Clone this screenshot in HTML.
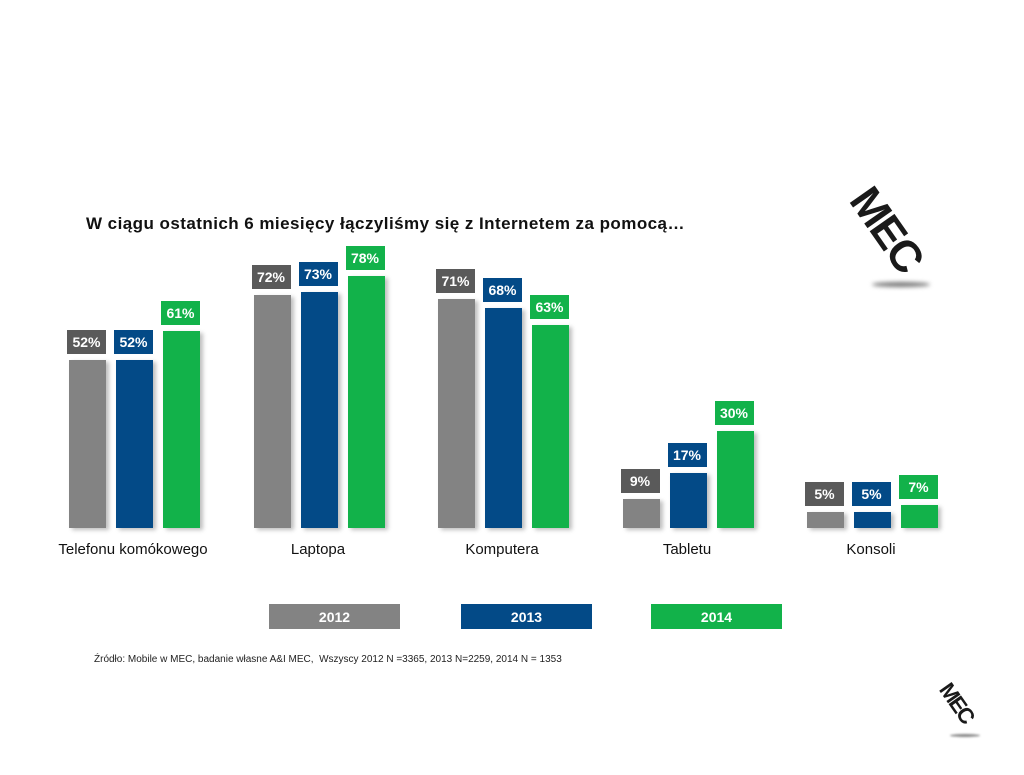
<!DOCTYPE html>
<html><head><meta charset="utf-8"><style>
body{margin:0;width:1024px;height:775px;background:#fff;position:relative;overflow:hidden;font-family:"Liberation Sans",sans-serif}
.b{position:absolute;width:37px;box-shadow:3px 2px 4px rgba(0,0,0,.25)}
.l{position:absolute;width:39px;height:24px;color:#fff;font-weight:bold;font-size:14px;text-align:center;line-height:25px}
.g{background:#838383}.n{background:#034a87}.e{background:#12b24a}
.lg{background:#5a5a5a}
.c{position:absolute;top:541px;width:200px;text-align:center;font-size:15px;color:#111}
.leg{position:absolute;top:604px;height:25px;width:131px;color:#fff;font-weight:bold;font-size:14px;text-align:center;line-height:27px}
.logo{position:absolute;font-weight:900;color:#1a1a1a;transform:rotate(55deg);letter-spacing:-2px}
</style></head><body>
<div style="position:absolute;left:86px;top:214px;font-size:17px;letter-spacing:0.45px;font-weight:bold;color:#111">W ciągu ostatnich 6 miesięcy łączyliśmy się z Internetem za pomocą…</div>
<div class="logo" style="left:840px;top:205px;font-size:44px">MEC</div>
<div style="position:absolute;left:872px;top:282px;width:58px;height:5px;border-radius:50%;background:#777;filter:blur(2px)"></div>
<div class="logo" style="left:935px;top:690px;font-size:22px">MEC</div>
<div style="position:absolute;left:950px;top:734px;width:30px;height:3px;border-radius:50%;background:#888;filter:blur(1px)"></div>
<div id="ch"></div>
<div class="c" style="left:33px">Telefonu komókowego</div>
<div class="c" style="left:218px">Laptopa</div>
<div class="c" style="left:402px">Komputera</div>
<div class="c" style="left:587px">Tabletu</div>
<div class="c" style="left:771px">Konsoli</div>
<div class="leg g" style="left:269px">2012</div>
<div class="leg n" style="left:461px">2013</div>
<div class="leg e" style="left:651px">2014</div>
<div style="position:absolute;left:94px;top:654px;font-size:10px;color:#222">Źródło: Mobile w MEC, badanie własne A&amp;I MEC,&nbsp; Wszyscy 2012 N =3365, 2013 N=2259, 2014 N = 1353</div>
<script>
var d=[[52,52,61],[72,73,78],[71,68,63],[9,17,30],[5,5,7]],cl=['g','n','e'],lc=['lg','n','e'],h='';
for(var i=0;i<5;i++)for(var j=0;j<3;j++){var x=69+i*184.5+j*47,v=d[i][j],ht=v*3.23,t=528-ht;
h+='<div class="b '+cl[j]+'" style="left:'+x+'px;top:'+t+'px;height:'+ht+'px"></div>';
h+='<div class="l '+lc[j]+'" style="left:'+(x-2)+'px;top:'+(t-30)+'px">'+v+'%</div>';}
document.getElementById('ch').innerHTML=h;
</script>
</body></html>
